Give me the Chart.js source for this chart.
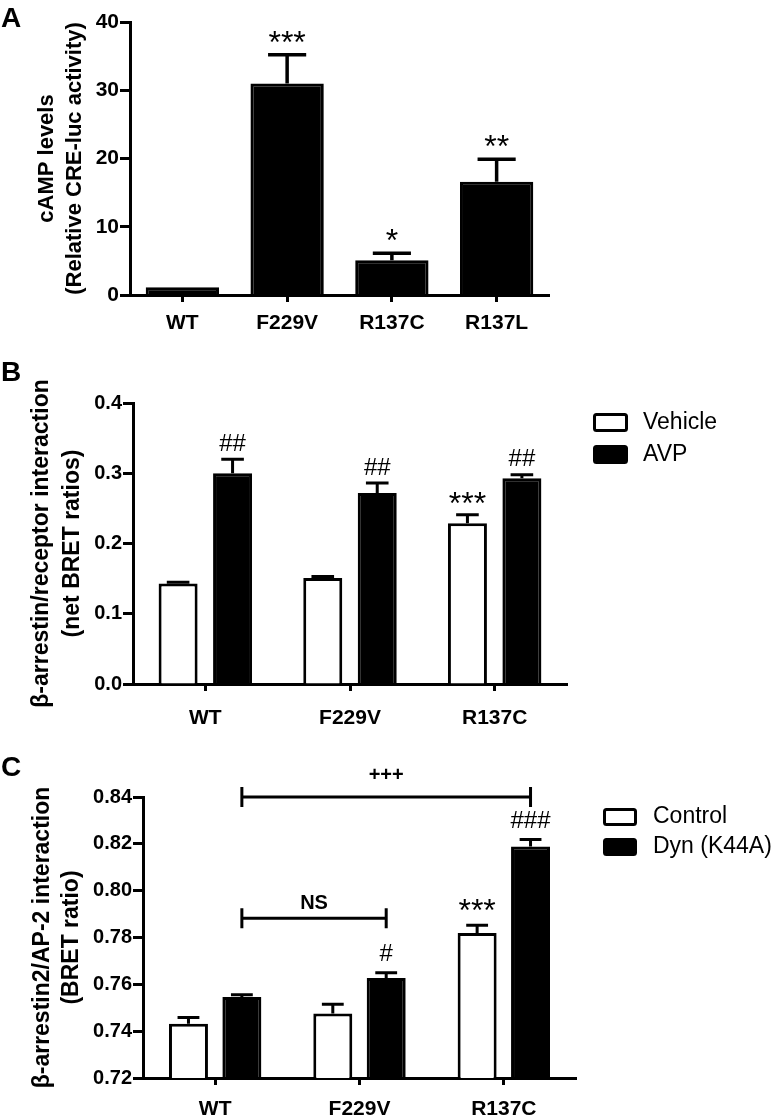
<!DOCTYPE html>
<html>
<head>
<meta charset="utf-8">
<script src="https://cdn.jsdelivr.net/npm/chart.js@4.4.1/dist/chart.umd.min.js"></script>
<style>
  body { margin: 0; background: #fff; }
  #wrap { position: relative; width: 777px; height: 1116px; background: #fff; }
  canvas { position: absolute; left: 0; }
  .tag { position: absolute; left: 1px; font: bold 28px "Liberation Sans", Arial, sans-serif; line-height: 28px; }
</style>
</head>
<body>
<div id="wrap">
  <canvas id="chartA" width="777" height="340" style="top:0px"></canvas>
  <canvas id="chartB" width="777" height="390" style="top:340px"></canvas>
  <canvas id="chartC" width="777" height="386" style="top:730px"></canvas>
  <div class="tag" style="top:4px">A</div>
  <div class="tag" style="top:358px">B</div>
  <div class="tag" style="top:753px">C</div>
</div>
<script>
// Panel A: cAMP levels
const catsA = ["WT", "F229V", "R137C", "R137L"];
const campA = [1.15, 31.0, 5.1, 16.6];
const campErrA = [0, 4.2, 1.0, 3.3];
const sigA = ["", "***", "*", "**"];

// Panel B: beta-arrestin / receptor interaction
const catsB = ["WT", "F229V", "R137C"];
const vehicleB = [0.143, 0.151, 0.229];
const vehicleErrB = [0.002, 0.002, 0.012];
const vehicleSigB = ["", "", "***"];
const avpB = [0.300, 0.272, 0.293];
const avpErrB = [0.020, 0.014, 0.005];
const avpSigB = ["##", "##", "##"];

// Panel C: beta-arrestin2 / AP-2 interaction
const catsC = ["WT", "F229V", "R137C"];
const controlC = [0.7432, 0.7475, 0.7819];
const controlErrC = [0.0026, 0.0040, 0.0033];
const controlSigC = ["", "", "***"];
const dynC = [0.7546, 0.7627, 0.8189];
const dynErrC = [0.0010, 0.0023, 0.0030];
const dynSigC = ["", "#", "###"];
// comparison brackets: between Dyn bars of two categories
const bracketFromC = [0, 0];
const bracketToC = [2, 1];
const bracketLevelC = [0.84, 0.7882];
const bracketTextC = ["+++", "NS"];

const FAMILY = '"Liberation Sans", Arial, sans-serif';

// draws text so that its ink is centred on cy
function inkText(ctx, text, x, cy) {
    ctx.textAlign = "center";
    ctx.textBaseline = "alphabetic";
    const m = ctx.measureText(text);
    ctx.fillText(text, x, cy + (m.actualBoundingBoxAscent - m.actualBoundingBoxDescent) / 2);
}

// upper error bars + significance marks
const errorBars = {
    id: "errorBars",
    afterDatasetsDraw(chart, args, opts) {
        const ctx = chart.ctx;
        const y = chart.scales.y;
        chart.data.datasets.forEach((ds, di) => {
            chart.getDatasetMeta(di).data.forEach((bar, i) => {
                let top = bar.y;
                const err = ds.errors ? ds.errors[i] : 0;
                ctx.save();
                if (err) {
                    top = y.getPixelForValue(ds.data[i] + err);
                    const half = (bar.width * opts.cap) / 2;
                    ctx.strokeStyle = "#000";
                    ctx.lineWidth = opts.width;
                    ctx.beginPath();
                    ctx.moveTo(bar.x, bar.y);
                    ctx.lineTo(bar.x, top);
                    ctx.moveTo(bar.x - half, top);
                    ctx.lineTo(bar.x + half, top);
                    ctx.stroke();
                }
                const mark = ds.marks ? ds.marks[i] : "";
                if (mark) {
                    ctx.fillStyle = "#000";
                    ctx.font = mark.includes("*") ? opts.starFont : opts.hashFont;
                    inkText(ctx, mark, bar.x, top - opts.gap);
                }
                ctx.restore();
            });
        });
    },
};

// legend drawn beside the plot
const sideLegend = {
    id: "sideLegend",
    afterDraw(chart, args, opts) {
        if (!opts.show) return;
        const ctx = chart.ctx;
        chart.data.datasets.forEach((ds, i) => {
            const top = opts.y + i * opts.step;
            ctx.save();
            ctx.fillStyle = ds.backgroundColor;
            ctx.strokeStyle = "#000";
            ctx.lineWidth = 3;
            ctx.beginPath();
            ctx.roundRect(opts.x + 1.5, top + 1.5, opts.w - 3, opts.h - 3, 2);
            ctx.fill();
            ctx.stroke();
            ctx.fillStyle = "#000";
            ctx.font = opts.font;
            ctx.textAlign = "left";
            ctx.textBaseline = "middle";
            ctx.fillText(ds.label, opts.textX, top + opts.h / 2);
            ctx.restore();
        });
    },
};

// horizontal comparison brackets (panel C)
const brackets = {
    id: "brackets",
    afterDraw(chart, args, opts) {
        if (!opts.from) return;
        const ctx = chart.ctx;
        const y = chart.scales.y;
        const bars = chart.getDatasetMeta(opts.dataset).data;
        opts.from.forEach((f, i) => {
            const x1 = bars[f].x;
            const x2 = bars[opts.to[i]].x;
            const py = y.getPixelForValue(opts.level[i]);
            ctx.save();
            ctx.strokeStyle = "#000";
            ctx.lineWidth = 3;
            ctx.beginPath();
            ctx.moveTo(x1, py);
            ctx.lineTo(x2, py);
            ctx.moveTo(x1, py - opts.cap);
            ctx.lineTo(x1, py + opts.cap);
            ctx.moveTo(x2, py - opts.cap);
            ctx.lineTo(x2, py + opts.cap);
            ctx.stroke();
            ctx.fillStyle = "#000";
            ctx.font = opts.font;
            inkText(ctx, opts.text[i], (x1 + x2) / 2, py - opts.gaps[i]);
            ctx.restore();
        });
    },
};

function makeChart(id, s) {
    return new Chart(document.getElementById(id), {
        type: "bar",
        data: { labels: s.labels, datasets: s.datasets },
        plugins: [errorBars, sideLegend, brackets],
        options: {
            responsive: false,
            animation: false,
            devicePixelRatio: 1,
            layout: { padding: { top: s.top, right: s.right, bottom: 0, left: 0 } },
            datasets: {
                bar: { categoryPercentage: s.catPct, barPercentage: s.barPct, borderColor: "#000", borderWidth: 3 },
            },
            plugins: {
                legend: { display: false },
                tooltip: { enabled: false },
                errorBars: s.err,
                sideLegend: s.legend || { show: false },
                brackets: s.brackets || {},
            },
            scales: {
                x: {
                    z: 1,
                    afterFit: (sc) => { sc.height = s.xHeight; },
                    border: { display: true, color: "#000", width: 3 },
                    grid: { offset: false, drawOnChartArea: false, tickLength: 7, tickWidth: 3, tickColor: "#000" },
                    ticks: { color: "#000", padding: s.xPad, font: { family: FAMILY, size: 21, weight: "bold" } },
                },
                y: {
                    z: 1,
                    min: s.min,
                    max: s.max,
                    afterFit: (sc) => { sc.width = s.left; },
                    border: { display: true, color: "#000", width: 3 },
                    grid: { drawOnChartArea: false, tickLength: 10, tickWidth: 3, tickColor: "#000" },
                    ticks: {
                        stepSize: s.step,
                        padding: 1,
                        color: "#000",
                        font: { family: FAMILY, size: s.tickSize, weight: "bold" },
                        callback: (v) => v.toFixed(s.digits),
                    },
                    title: {
                        display: true,
                        text: s.title,
                        color: "#000",
                        padding: { top: s.titlePad, bottom: 0 },
                        font: { family: FAMILY, size: s.titleSize, weight: "bold", lineHeight: s.titleLH },
                    },
                },
            },
        },
    });
}

makeChart("chartA", {
    labels: catsA,
    datasets: [{ label: "cAMP", data: campA, errors: campErrA, marks: sigA, backgroundColor: "#000" }],
    top: 22, right: 228, left: 130, xHeight: 45, xPad: 9,
    catPct: 1, barPct: 0.70,
    min: 0, max: 40, step: 10, digits: 0, tickSize: 21,
    title: ["cAMP levels", "(Relative CRE-luc activity)"], titleSize: 22, titleLH: "28px", titlePad: 33,
    err: { cap: 0.52, width: 3.5, gap: 18, starFont: "32px " + FAMILY, hashFont: "24px " + FAMILY },
});

makeChart("chartB", {
    labels: catsB,
    datasets: [
        { label: "Vehicle", data: vehicleB, errors: vehicleErrB, marks: vehicleSigB, backgroundColor: "#fff" },
        { label: "AVP", data: avpB, errors: avpErrB, marks: avpSigB, backgroundColor: "#000" },
    ],
    top: 63, right: 210, left: 133, xHeight: 46, xPad: 15,
    catPct: 0.753, barPct: 0.716,
    min: 0, max: 0.4, step: 0.1, digits: 1, tickSize: 20,
    title: ["β-arrestin/receptor interaction", "(net BRET ratios)"], titleSize: 23, titleLH: "31px", titlePad: 26,
    err: { cap: 0.58, width: 3, gap: 17, starFont: "32px " + FAMILY, hashFont: "24px " + FAMILY },
    legend: { show: true, x: 593, y: 73, w: 35, h: 19, step: 32, textX: 643, font: "23px " + FAMILY },
});

makeChart("chartC", {
    labels: catsC,
    datasets: [
        { label: "Control", data: controlC, errors: controlErrC, marks: controlSigC, backgroundColor: "#fff" },
        { label: "Dyn (K44A)", data: dynC, errors: dynErrC, marks: dynSigC, backgroundColor: "#000" },
    ],
    top: 67, right: 201, left: 143, xHeight: 38, xPad: 12,
    catPct: 0.74, barPct: 0.73,
    min: 0.72, max: 0.84, step: 0.02, digits: 2, tickSize: 20,
    title: ["β-arrestin2/AP-2 interaction", "(BRET ratio)"], titleSize: 23, titleLH: "29px", titlePad: 28,
    err: { cap: 0.56, width: 3, gap: 20, starFont: "32px " + FAMILY, hashFont: "24px " + FAMILY },
    legend: { show: true, x: 603, y: 78, w: 34, h: 18, step: 30, textX: 653, font: "23px " + FAMILY },
    brackets: {
        dataset: 1, from: bracketFromC, to: bracketToC, level: bracketLevelC, text: bracketTextC,
        cap: 10, gaps: [24, 16], font: "bold 20px " + FAMILY,
    },
});
</script>
</body>
</html>
